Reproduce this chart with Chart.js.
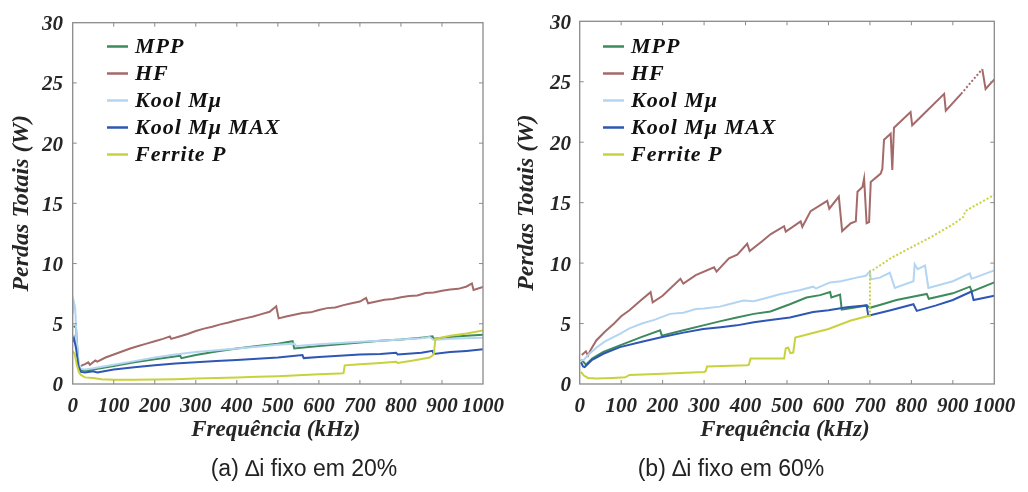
<!DOCTYPE html>
<html><head><meta charset="utf-8">
<script src="https://cdn.jsdelivr.net/npm/chart.js@4.4.1/dist/chart.umd.min.js"></script>
<style>
html,body{margin:0;padding:0;background:#fff;width:1028px;height:492px;overflow:hidden;position:relative;}
canvas{position:absolute;top:0;}
#ca{left:0}
#cb{left:514px}
.cap{position:absolute;top:455px;font-family:"Liberation Sans",Arial,sans-serif;font-size:23px;color:#222;white-space:nowrap;transform:translateX(-50%);}
</style></head><body>
<canvas id="ca" width="514" height="460"></canvas>
<canvas id="cb" width="514" height="460"></canvas>
<div class="cap" style="left:304px">(a) ∆i fixo em 20%</div>
<div class="cap" style="left:731px">(b) ∆i fixo em 60%</div>
<script>
// ---------- tick labels / titles ----------
const X_TICKS = [0, 100, 200, 300, 400, 500, 600, 700, 800, 900, 1000];
const Y_TICKS = [0, 5, 10, 15, 20, 25, 30];
const SERIES_NAMES = ['MPP', 'HF', 'Kool Mμ', 'Kool Mμ MAX', 'Ferrite P'];
const X_TITLE = 'Frequência (kHz)';
const Y_TITLE = 'Perdas Totais (W)';

// ---------- (a) Δi fixo em 20% ----------
const A_MPP_F = [2, 8, 14, 20, 30, 50, 100, 150, 200, 262, 265, 300, 350, 400, 450, 500, 536, 540, 600, 650, 700, 750, 800, 850, 877, 880, 920, 960, 1000];
const A_MPP_W = [4.8, 4.7, 1.5, 1.15, 1.1, 1.2, 1.5, 1.8, 2.05, 2.35, 2.15, 2.4, 2.7, 2.95, 3.15, 3.35, 3.55, 2.95, 3.15, 3.3, 3.45, 3.6, 3.7, 3.85, 3.95, 3.75, 3.9, 4.0, 4.1];
const A_HF_F = [20, 30, 38, 42, 55, 60, 80, 100, 120, 140, 160, 180, 200, 220, 237, 240, 260, 280, 300, 320, 340, 360, 380, 400, 420, 440, 460, 480, 496, 502, 520, 540, 560, 580, 600, 620, 640, 660, 680, 700, 715, 720, 740, 760, 780, 800, 820, 840, 860, 880, 900, 920, 940, 960, 973, 977, 1000];
const A_HF_W = [1.5, 1.65, 1.8, 1.6, 1.95, 1.85, 2.2, 2.45, 2.7, 2.95, 3.15, 3.35, 3.55, 3.75, 3.95, 3.75, 3.95, 4.15, 4.4, 4.6, 4.75, 4.95, 5.1, 5.3, 5.45, 5.6, 5.8, 6.0, 6.45, 5.45, 5.6, 5.75, 5.9, 5.95, 6.15, 6.3, 6.35, 6.55, 6.7, 6.85, 7.15, 6.7, 6.85, 7.0, 7.05, 7.2, 7.3, 7.35, 7.55, 7.6, 7.75, 7.85, 7.9, 8.1, 8.35, 7.8, 8.05];
const A_KM_F = [0, 3, 6, 10, 15, 20, 30, 50, 100, 150, 200, 250, 300, 350, 400, 450, 500, 540, 545, 600, 650, 700, 750, 800, 850, 870, 880, 920, 960, 1000];
const A_KM_W = [5.8, 6.8, 6.3, 3.5, 1.6, 1.25, 1.2, 1.3, 1.6, 1.9, 2.2, 2.45, 2.65, 2.8, 2.95, 3.1, 3.25, 3.35, 3.15, 3.3, 3.4, 3.5, 3.6, 3.7, 3.8, 3.9, 3.65, 3.75, 3.8, 3.85];
const A_KX_F = [0, 3, 8, 14, 20, 30, 50, 60, 100, 150, 200, 250, 300, 350, 400, 450, 500, 560, 563, 600, 650, 700, 750, 788, 792, 850, 877, 880, 920, 960, 1000];
const A_KX_W = [3.5, 3.8, 3.0, 1.5, 1.0, 0.95, 1.05, 0.95, 1.2, 1.4, 1.55, 1.7, 1.8, 1.9, 2.0, 2.1, 2.2, 2.4, 2.15, 2.25, 2.35, 2.45, 2.5, 2.6, 2.45, 2.6, 2.75, 2.5, 2.65, 2.75, 2.88];
const A_FP_F = [0, 5, 10, 15, 20, 30, 50, 70, 100, 150, 200, 250, 300, 350, 400, 450, 500, 550, 600, 650, 660, 663, 700, 750, 788, 792, 830, 870, 880, 884, 920, 960, 1000];
const A_FP_W = [2.7, 2.5, 1.6, 1.0, 0.75, 0.55, 0.5, 0.4, 0.35, 0.35, 0.38, 0.4, 0.45, 0.5, 0.55, 0.6, 0.65, 0.72, 0.8, 0.88, 0.9, 1.55, 1.65, 1.75, 1.85, 1.75, 1.95, 2.2, 2.45, 3.75, 4.0, 4.2, 4.45];

// ---------- (b) Δi fixo em 60% ----------
const B_MPP_F = [3, 10, 15, 30, 57, 97, 150, 194, 198, 250, 298, 340, 379, 420, 460, 507, 547, 580, 604, 607, 628, 632, 660, 692, 700, 730, 764, 800, 837, 842, 900, 941, 946, 1000];
const B_MPP_W = [2.0, 1.8, 1.6, 2.1, 2.65, 3.2, 3.9, 4.45, 4.0, 4.45, 4.85, 5.2, 5.5, 5.8, 6.0, 6.6, 7.15, 7.35, 7.6, 7.15, 7.4, 6.15, 6.3, 6.5, 6.3, 6.6, 6.95, 7.2, 7.45, 7.05, 7.5, 8.05, 7.65, 8.4];
const B_HF_F = [5, 15, 20, 26, 40, 60, 83, 100, 120, 147, 171, 176, 200, 243, 250, 280, 324, 330, 360, 380, 404, 410, 440, 461, 493, 497, 533, 537, 557, 597, 602, 625, 633, 654, 666, 670, 682, 686, 692, 698, 702, 726, 730, 734, 750, 754, 758, 798, 802, 879, 883, 920, 971, 979, 1000];
const B_HF_W = [2.4, 2.7, 2.35, 2.8, 3.6, 4.3, 5.0, 5.6, 6.1, 6.9, 7.6, 6.75, 7.3, 8.7, 8.3, 9.0, 9.65, 9.3, 10.4, 10.7, 11.6, 11.0, 11.8, 12.4, 13.05, 12.6, 13.45, 13.0, 14.3, 15.15, 14.5, 15.5, 12.65, 13.3, 13.45, 15.9, 16.3, 17.0, 13.3, 13.4, 16.7, 17.4, 17.8, 20.2, 20.7, 17.7, 21.2, 22.5, 21.4, 24.0, 22.6, 24.0, 26.05, 24.4, 25.2];
const B_KM_F = [3, 10, 20, 40, 60, 97, 120, 150, 180, 218, 250, 280, 300, 338, 360, 395, 420, 459, 480, 507, 530, 563, 570, 604, 630, 668, 690, 700, 702, 724, 748, 760, 805, 808, 815, 833, 841, 900, 941, 945, 1000];
const B_KM_W = [1.95, 2.0, 2.4, 3.0, 3.5, 4.15, 4.6, 5.0, 5.3, 5.8, 5.9, 6.2, 6.25, 6.4, 6.6, 6.9, 6.85, 7.2, 7.4, 7.6, 7.75, 8.05, 7.9, 8.4, 8.5, 8.8, 8.95, 9.3, 8.65, 8.8, 9.2, 7.95, 8.5, 9.9, 9.5, 9.8, 7.95, 8.5, 9.15, 8.7, 9.4];
const B_KX_F = [3, 8, 12, 30, 57, 97, 150, 194, 250, 298, 340, 379, 420, 460, 507, 563, 600, 644, 692, 696, 750, 805, 813, 860, 900, 945, 950, 1000];
const B_KX_W = [1.8, 1.45, 1.4, 2.0, 2.5, 3.05, 3.5, 3.85, 4.25, 4.55, 4.7, 4.85, 5.1, 5.3, 5.5, 5.95, 6.1, 6.35, 6.5, 5.65, 6.1, 6.6, 6.05, 6.5, 6.95, 7.65, 6.95, 7.3];
const B_FP_F = [3, 10, 20, 40, 80, 110, 120, 200, 300, 304, 307, 404, 408, 412, 493, 497, 503, 508, 515, 520, 560, 600, 654, 698, 700, 704, 750, 805, 850, 900, 925, 930, 1000];
const B_FP_W = [1.0, 0.7, 0.5, 0.45, 0.5, 0.55, 0.75, 0.85, 1.0, 1.05, 1.45, 1.55, 1.6, 2.1, 2.1, 2.95, 3.0, 2.55, 2.6, 3.85, 4.2, 4.55, 5.25, 5.65, 9.3, 9.35, 10.4, 11.4, 12.2, 13.2, 13.8, 14.3, 15.65];
// dotted stretches (kHz) in panel (b): [from, to)
const B_HF_DOTS = [918, 970];
const B_FP_DOTS = [698, 2000];

// ---------- style ----------
const COLORS = ['#3d8b5c', '#a46a6a', '#b3d5f2', '#2e56b5', '#c8d23c'];
const TXT = '#262626';
const SERIF = '"Liberation Serif", "Times New Roman", serif';
const TICK_FONT = {family: SERIF, size: 21, weight: 'bold', style: 'italic'};
const XT_FONT = 'italic bold 23px ' + SERIF;
const YT_FONT = 'italic bold 24px ' + SERIF;
const LEG_FONT = 'italic bold 22px ' + SERIF;

function pts(f, w) { return f.map((x, i) => ({x: x, y: w[i]})); }

function makeDatasets(list, dots) {
  return list.map((pair, i) => {
    const ds = {
      label: SERIES_NAMES[i],
      data: pts(pair[0], pair[1]),
      borderColor: COLORS[i],
      backgroundColor: COLORS[i],
      borderWidth: 2,
      pointRadius: 0,
      tension: 0,
      fill: false,
      order: 5 - i
    };
    if (dots && dots[i]) {
      const r = dots[i];
      ds.segment = { borderDash: ctx => (ctx.p0.parsed.x >= r[0] && ctx.p0.parsed.x < r[1]) ? [2, 2] : undefined };
    }
    return ds;
  });
}

function spaced(ctx, px) { if ('letterSpacing' in ctx) ctx.letterSpacing = px + 'px'; }

const boxPlugin = {
  id: 'boxTicks',
  afterDatasetsDraw(chart, args, opts) {
    const ctx = chart.ctx, a = chart.chartArea;
    const xs = chart.scales.x, ys = chart.scales.y;
    ctx.save();
    ctx.strokeStyle = '#8a8a8a';
    ctx.lineWidth = 1.3;
    ctx.strokeRect(a.left, a.top, a.right - a.left, a.bottom - a.top);
    ctx.lineWidth = 1;
    const L = 4;
    ctx.beginPath();
    X_TICKS.forEach(v => {
      const p = xs.getPixelForValue(v);
      if (p <= a.left + 1 || p >= a.right - 1) return;
      ctx.moveTo(p, a.bottom); ctx.lineTo(p, a.bottom - L);
      ctx.moveTo(p, a.top); ctx.lineTo(p, a.top + L);
    });
    Y_TICKS.forEach(v => {
      const p = ys.getPixelForValue(v);
      if (p <= a.top + 1 || p >= a.bottom - 1) return;
      ctx.moveTo(a.left, p); ctx.lineTo(a.left + L, p);
      ctx.moveTo(a.right, p); ctx.lineTo(a.right - L, p);
    });
    ctx.stroke();
    ctx.restore();
  },
  afterDraw(chart, args, opts) {
    const ctx = chart.ctx, a = chart.chartArea;
    // legend
    ctx.save();
    ctx.font = LEG_FONT;
    spaced(ctx, 1);
    ctx.textBaseline = 'middle';
    ctx.textAlign = 'left';
    chart.data.datasets.forEach((ds, i) => {
      const y = opts.y + i * opts.dy;
      ctx.strokeStyle = ds.borderColor;
      ctx.lineWidth = 2.5;
      ctx.beginPath();
      ctx.moveTo(opts.x, y); ctx.lineTo(opts.x + 21, y);
      ctx.stroke();
      ctx.fillStyle = '#111';
      ctx.fillText(ds.label, opts.x + 28, y + 1);
    });
    ctx.restore();
    // axis titles
    ctx.save();
    ctx.fillStyle = TXT;
    ctx.textAlign = 'center';
    ctx.textBaseline = 'middle';
    ctx.font = XT_FONT;
    spaced(ctx, 0);
    ctx.fillText(X_TITLE, (a.left + a.right) / 2 - 2, opts.xty);
    ctx.font = YT_FONT;
    ctx.translate(opts.ytx, (a.top + a.bottom) / 2);
    ctx.rotate(-Math.PI / 2);
    ctx.fillText(Y_TITLE, 0, 0);
    ctx.restore();
  }
};

function build(id, datasets, g) {
  return new Chart(document.getElementById(id), {
    type: 'line',
    data: { datasets: datasets },
    options: {
      responsive: false,
      animation: false,
      devicePixelRatio: 1,
      layout: { padding: { top: g.top, right: g.right, left: 0, bottom: g.bottom } },
      plugins: {
        legend: { display: false },
        tooltip: { enabled: false },
        boxTicks: { x: g.lx, y: g.ly, dy: 27, xty: g.xty, ytx: g.ytx }
      },
      scales: {
        x: {
          type: 'linear', min: 0, max: 1000,
          afterBuildTicks: s => { s.ticks = X_TICKS.map(v => ({ value: v })); },
          ticks: { autoSkip: false, maxRotation: 0, minRotation: 0, color: TXT, font: TICK_FONT, padding: g.xpad, callback: v => String(v) },
          grid: { display: false, drawTicks: false },
          border: { display: false },
          title: { display: false },
          afterFit: s => { s.height = g.xh; }
        },
        y: {
          type: 'linear', min: 0, max: 30,
          afterBuildTicks: s => { s.ticks = Y_TICKS.map(v => ({ value: v })); },
          ticks: { color: TXT, font: TICK_FONT, padding: g.ypad, labelOffset: 2, callback: v => String(v) },
          grid: { display: false, drawTicks: false },
          border: { display: false },
          title: { display: false },
          afterFit: s => { s.width = g.yw; }
        }
      }
    },
    plugins: [boxPlugin]
  });
}

build('ca', makeDatasets([[A_MPP_F, A_MPP_W], [A_HF_F, A_HF_W], [A_KM_F, A_KM_W], [A_KX_F, A_KX_W], [A_FP_F, A_FP_W]], null),
  { top: 22.7, right: 30, bottom: 16.2, xh: 59.8, yw: 72.7, xpad: 10, ypad: 9.7, lx: 107, ly: 46.5, xty: 430, ytx: 22 });

build('cb', makeDatasets([[B_MPP_F, B_MPP_W], [B_HF_F, B_HF_W], [B_KM_F, B_KM_W], [B_KX_F, B_KX_W], [B_FP_F, B_FP_W]], [null, B_HF_DOTS, null, null, B_FP_DOTS]),
  { top: 18.7, right: 33.7, bottom: 16.2, xh: 59.8, yw: 65.7, xpad: 10, ypad: 8.7, lx: 89, ly: 46.5, xty: 430, ytx: 13 });
</script>
</body></html>
